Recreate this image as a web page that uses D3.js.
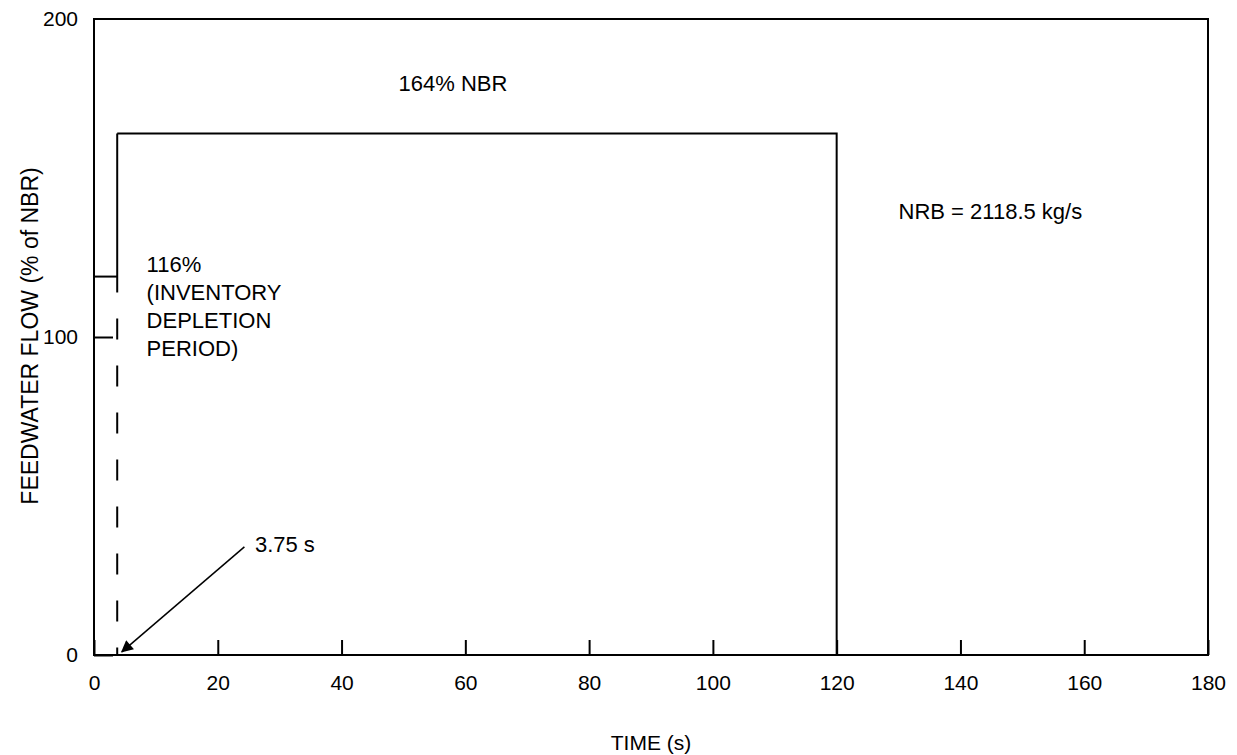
<!DOCTYPE html>
<html><head><meta charset="utf-8">
<script src="https://cdn.jsdelivr.net/npm/d3@7"></script>
<style>
html,body{margin:0;padding:0;background:#fff;}
text{font-family:"Liberation Sans",Arial,sans-serif;fill:#000;}
</style></head>
<body>
<svg id="chart" width="1237" height="755"></svg>
<script>
// ---- data ----
const xTicks = [0, 20, 40, 60, 80, 100, 120, 140, 160, 180];
const yTicks = [0, 100, 200];
const flowTime = [3.75, 120, 120, 180];
const flowValue = [164, 164, 0, 0];
const depletionTime = [0, 3.75];
const depletionValue = [119, 119];
const stepTime = 3.75;
const stepSolidFrom = 164, stepSolidTo = 114;
const arrowTip = [4.5, 1];
const arrowTail = [24.3, 34];
const annotations = [
  {t: 58, v: 177.5, text: "164% NBR", anchor: "middle"},
  {t: 130, v: 137, text: "NRB = 2118.5 kg/s", anchor: "start"},
  {t: 8.5, v: 120.5, text: "116%", anchor: "start"},
  {t: 8.5, v: 111.7, text: "(INVENTORY", anchor: "start"},
  {t: 8.5, v: 102.9, text: "DEPLETION", anchor: "start"},
  {t: 8.5, v: 94.1, text: "PERIOD)", anchor: "start"},
  {t: 26, v: 32.5, text: "3.75 s", anchor: "start"}
];

const svg = d3.select("#chart");
const x = d3.scaleLinear().domain([0, 180]).range([94, 1208]);
const y = d3.scaleLinear().domain([0, 200]).range([655, 19]);
const fs = 21;
const FONT = "Liberation Sans, Arial, sans-serif";

// frame
svg.append("rect").attr("x", 94).attr("y", 19).attr("width", 1208 - 94).attr("height", 655 - 19)
  .attr("fill", "none").attr("stroke", "#000").attr("stroke-width", 2);

// x axis ticks (inward)
const xAxis = d3.axisBottom(x).tickValues(xTicks).tickSize(-15).tickPadding(20).tickSizeOuter(0);
const gx = svg.append("g").attr("transform", "translate(0,655)").call(xAxis);
gx.select(".domain").remove();
gx.selectAll("line").attr("stroke-width", 2);
gx.selectAll("text").style("font-size", fs + "px").style("font-family", FONT);

const yAxis = d3.axisLeft(y).tickValues(yTicks).tickSize(-19).tickPadding(16).tickSizeOuter(0);
const gy = svg.append("g").attr("transform", "translate(94,0)").call(yAxis);
gy.select(".domain").remove();
gy.selectAll("line").attr("stroke-width", 2);
gy.selectAll("text").style("font-size", fs + "px").style("font-family", FONT);
gy.selectAll(".tick").filter(d => d === 200).select("line").remove();

const line = d3.line().x(d => x(d[0])).y(d => y(d[1]));

// main flow
svg.append("path").datum(flowTime.map((t, i) => [t, flowValue[i]]))
  .attr("d", line).attr("fill", "none").attr("stroke", "#000").attr("stroke-width", 2);
// depletion level
svg.append("path").datum(depletionTime.map((t, i) => [t, depletionValue[i]]))
  .attr("d", line).attr("fill", "none").attr("stroke", "#000").attr("stroke-width", 2);
// vertical step solid
svg.append("path").datum([[stepTime, stepSolidFrom], [stepTime, stepSolidTo]])
  .attr("d", line).attr("fill", "none").attr("stroke", "#000").attr("stroke-width", 2);
// dashed portion
svg.append("path").datum([[stepTime, stepSolidTo], [stepTime, 0]])
  .attr("d", line).attr("fill", "none").attr("stroke", "#000").attr("stroke-width", 2)
  .attr("stroke-dasharray", "21,26").attr("stroke-dashoffset", 21);

// arrow
svg.append("defs").append("marker").attr("id", "ah").attr("viewBox", "0 0 10 10")
  .attr("refX", 9).attr("refY", 5).attr("markerWidth", 14).attr("markerHeight", 12)
  .attr("markerUnits", "userSpaceOnUse").attr("orient", "auto")
  .append("path").attr("d", "M0,0 L10,5 L0,10 z").attr("fill", "#000");
svg.append("path").datum([arrowTail, arrowTip]).attr("d", line)
  .attr("fill", "none").attr("stroke", "#000").attr("stroke-width", 1.5).attr("marker-end", "url(#ah)");

// annotations
svg.selectAll("text.ann").data(annotations).enter().append("text").attr("class", "ann")
  .attr("x", d => x(d.t)).attr("y", d => y(d.v)).attr("text-anchor", d => d.anchor)
  .style("font-size", "22px").text(d => d.text);

// axis titles
svg.append("text").attr("x", 651).attr("y", 750).attr("text-anchor", "middle")
  .style("font-size", fs + "px").text("TIME (s)");
svg.append("text").attr("transform", "translate(38,336) rotate(-90)").attr("text-anchor", "middle")
  .style("font-size", "23px").text("FEEDWATER FLOW (% of NBR)");
</script>
</body></html>
